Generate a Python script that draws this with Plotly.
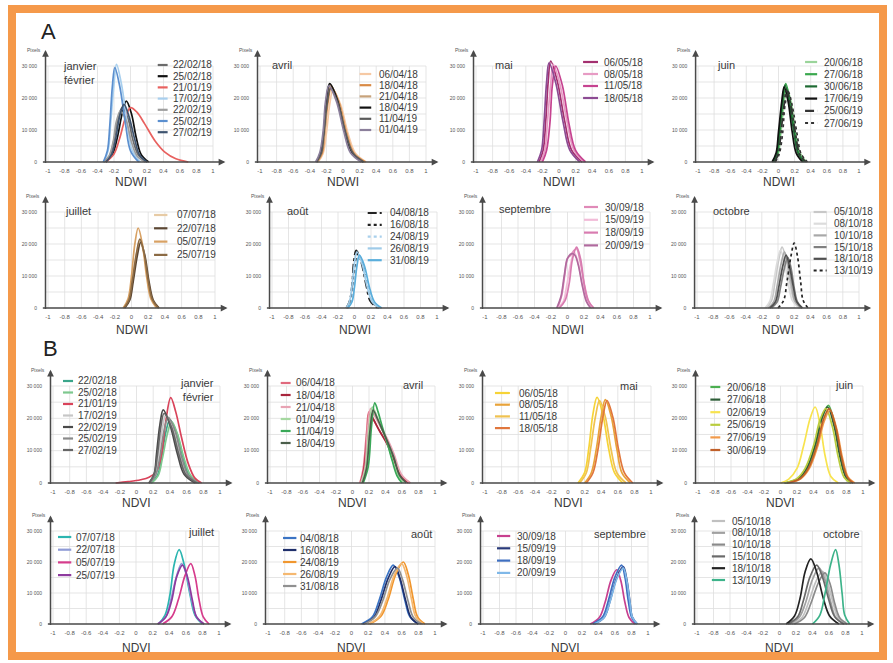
import plotly.graph_objects as go

W, H = 893, 663
FONT = "Liberation Sans, Arial, sans-serif"

# ---------------- NDWI distributions (A) : pixel counts in thousands ----------------
A_JF_DATES = ["22/02/18", "25/02/18", "21/01/19", "17/02/19", "22/02/19", "25/02/19", "27/02/19"]
A_JF_X = [
    [-0.32, -0.25, -0.2, -0.15, -0.1, -0.03, 0.03, 0.1, 0.2],
    [-0.3, -0.22, -0.16, -0.1, -0.05, 0.01, 0.07, 0.13, 0.22],
    [-0.3, -0.2, -0.13, -0.06, 0.0, 0.08, 0.17, 0.3, 0.42, 0.55, 0.7],
    [-0.32, -0.27, -0.24, -0.2, -0.17, -0.11, -0.04, 0.02, 0.12],
    [-0.33, -0.26, -0.21, -0.17, -0.12, -0.05, 0.01, 0.08, 0.18],
    [-0.33, -0.28, -0.25, -0.22, -0.19, -0.13, -0.06, 0.0, 0.1],
    [-0.3, -0.23, -0.18, -0.13, -0.08, -0.02, 0.05, 0.11, 0.2],
]
A_JF_Y = [
    [0, 2.0, 6.8, 13.6, 17.0, 13.6, 6.8, 2.0, 0],
    [0, 2.3, 7.6, 15.2, 19.0, 15.2, 7.6, 2.3, 0],
    [0, 2.5, 7.5, 14.0, 17.0, 15.5, 12.0, 6.5, 3.0, 1.0, 0],
    [0, 3.7, 12.2, 24.4, 30.5, 24.4, 12.2, 3.7, 0],
    [0, 1.9, 6.4, 12.8, 16.0, 12.8, 6.4, 1.9, 0],
    [0, 3.5, 11.8, 23.6, 29.5, 23.6, 11.8, 3.5, 0],
    [0, 2.2, 7.2, 14.4, 18.0, 14.4, 7.2, 2.2, 0],
]

A_AVR_DATES = ["06/04/18", "18/04/18", "21/04/18", "18/04/19", "11/04/19", "01/04/19"]
A_AVR_X = [
    [-0.3, -0.24, -0.2, -0.16, -0.12, -0.03, 0.06, 0.15, 0.28],
    [-0.31, -0.25, -0.22, -0.18, -0.14, -0.05, 0.04, 0.13, 0.27],
    [-0.31, -0.26, -0.22, -0.19, -0.15, -0.06, 0.03, 0.12, 0.25],
    [-0.32, -0.27, -0.23, -0.2, -0.16, -0.07, 0.02, 0.11, 0.24],
    [-0.32, -0.26, -0.23, -0.19, -0.15, -0.06, 0.03, 0.12, 0.25],
    [-0.33, -0.28, -0.24, -0.21, -0.17, -0.08, 0.01, 0.09, 0.22],
]
A_AVR_Y = [
    [0, 2.7, 9.0, 18.0, 22.5, 18.0, 9.0, 2.7, 0],
    [0, 2.8, 9.4, 18.8, 23.5, 18.8, 9.4, 2.8, 0],
    [0, 2.9, 9.6, 19.2, 24.0, 19.2, 9.6, 2.9, 0],
    [0, 2.9, 9.8, 19.6, 24.5, 19.6, 9.8, 2.9, 0],
    [0, 2.8, 9.2, 18.4, 23.0, 18.4, 9.2, 2.8, 0],
    [0, 2.9, 9.5, 19.0, 23.8, 19.0, 9.5, 2.9, 0],
]

A_MAI_DATES = ["06/05/18", "08/05/18", "11/05/18", "18/05/18"]
A_MAI_X = [
    [-0.24, -0.19, -0.16, -0.13, -0.1, -0.02, 0.07, 0.15, 0.28],
    [-0.22, -0.17, -0.14, -0.1, -0.07, 0.01, 0.1, 0.18, 0.3],
    [-0.2, -0.15, -0.11, -0.08, -0.04, 0.04, 0.12, 0.2, 0.32],
    [-0.26, -0.21, -0.18, -0.15, -0.12, -0.04, 0.05, 0.13, 0.25],
]
A_MAI_Y = [
    [0, 3.8, 12.6, 25.2, 31.5, 25.2, 12.6, 3.8, 0],
    [0, 3.7, 12.2, 24.4, 30.5, 24.4, 12.2, 3.7, 0],
    [0, 3.6, 12.0, 24.0, 30.0, 24.0, 12.0, 3.6, 0],
    [0, 3.7, 12.4, 24.8, 31.0, 24.8, 12.4, 3.7, 0],
]

A_JUN_DATES = ["20/06/18", "27/06/18", "30/06/18", "17/06/19", "25/06/19", "27/06/19"]
A_JUN_X = [
    [-0.05, 0.0, 0.03, 0.07, 0.1, 0.16, 0.21, 0.27, 0.35],
    [-0.06, -0.01, 0.02, 0.06, 0.09, 0.14, 0.2, 0.25, 0.33],
    [-0.07, -0.02, 0.01, 0.05, 0.08, 0.13, 0.19, 0.24, 0.32],
    [-0.08, -0.03, 0.0, 0.04, 0.07, 0.12, 0.17, 0.22, 0.3],
    [-0.05, 0.0, 0.03, 0.07, 0.1, 0.15, 0.21, 0.26, 0.34],
    [-0.04, 0.01, 0.05, 0.08, 0.12, 0.17, 0.23, 0.28, 0.36],
]
A_JUN_Y = [
    [0, 2.8, 9.2, 18.4, 23.0, 18.4, 9.2, 2.8, 0],
    [0, 2.9, 9.8, 19.6, 24.5, 19.6, 9.8, 2.9, 0],
    [0, 2.9, 9.6, 19.2, 24.0, 19.2, 9.6, 2.9, 0],
    [0, 2.8, 9.4, 18.8, 23.5, 18.8, 9.4, 2.8, 0],
    [0, 2.7, 9.0, 18.0, 22.5, 18.0, 9.0, 2.7, 0],
    [0, 2.6, 8.8, 17.6, 22.0, 17.6, 8.8, 2.6, 0],
]

A_JUL_DATES = ["07/07/18", "22/07/18", "05/07/19", "25/07/19"]
A_JUL_X = [
    [-0.1, -0.03, 0.01, 0.06, 0.1, 0.15, 0.2, 0.25, 0.33],
    [-0.08, -0.02, 0.02, 0.07, 0.11, 0.16, 0.21, 0.26, 0.33],
    [-0.1, -0.04, 0.0, 0.04, 0.08, 0.13, 0.18, 0.23, 0.3],
    [-0.09, -0.03, 0.01, 0.06, 0.1, 0.15, 0.2, 0.25, 0.32],
]
A_JUL_Y = [
    [0, 2.5, 8.4, 16.8, 21.0, 16.8, 8.4, 2.5, 0],
    [0, 2.5, 8.2, 16.4, 20.5, 16.4, 8.2, 2.5, 0],
    [0, 3.0, 10.0, 20.0, 25.0, 20.0, 10.0, 3.0, 0],
    [0, 2.6, 8.6, 17.2, 21.5, 17.2, 8.6, 2.6, 0],
]

A_AOU_DATES = ["04/08/18", "16/08/18", "24/08/19", "26/08/19", "31/08/19"]
A_AOU_X = [
    [-0.1, -0.06, -0.03, -0.01, 0.02, 0.08, 0.14, 0.19, 0.28],
    [-0.09, -0.05, -0.02, 0.01, 0.04, 0.1, 0.16, 0.21, 0.3],
    [-0.08, -0.04, -0.01, 0.02, 0.05, 0.11, 0.17, 0.23, 0.32],
    [-0.1, -0.06, -0.03, 0.0, 0.03, 0.09, 0.15, 0.21, 0.3],
    [-0.08, -0.03, 0.0, 0.03, 0.06, 0.12, 0.18, 0.24, 0.33],
]
A_AOU_Y = [
    [0, 2.2, 7.2, 14.4, 18.0, 14.4, 7.2, 2.2, 0],
    [0, 2.0, 6.8, 13.6, 17.0, 13.6, 6.8, 2.0, 0],
    [0, 1.9, 6.4, 12.8, 16.0, 12.8, 6.4, 1.9, 0],
    [0, 2.1, 7.0, 14.0, 17.5, 14.0, 7.0, 2.1, 0],
    [0, 2.0, 6.6, 13.2, 16.5, 13.2, 6.6, 2.0, 0],
]

A_SEP_DATES = ["30/09/18", "15/09/19", "18/09/19", "20/09/19"]
A_SEP_X = [
    [-0.12, -0.07, -0.03, 0.0, 0.04, 0.08, 0.11, 0.15, 0.2, 0.25, 0.3],
    [-0.12, -0.05, -0.01, 0.04, 0.08, 0.13, 0.18, 0.23, 0.3],
    [-0.1, -0.03, 0.02, 0.06, 0.11, 0.16, 0.2, 0.25, 0.32],
    [-0.13, -0.08, -0.04, 0.0, 0.05, 0.09, 0.13, 0.18, 0.23, 0.28],
]
A_SEP_Y = [
    [0, 4.0, 11.0, 15.5, 16.5, 18.0, 18.5, 15.0, 8.0, 2.5, 0],
    [0, 2.1, 7.0, 14.0, 17.5, 14.0, 7.0, 2.1, 0],
    [0, 2.3, 7.6, 15.2, 19.0, 15.2, 7.6, 2.3, 0],
    [0, 3.5, 10.0, 15.5, 17.0, 16.5, 13.5, 7.0, 2.0, 0],
]

A_OCT_DATES = ["05/10/18", "08/10/18", "10/10/18", "15/10/18", "18/10/18", "13/10/19"]
A_OCT_X = [
    [-0.15, -0.08, -0.04, 0.01, 0.05, 0.1, 0.15, 0.2, 0.28],
    [-0.16, -0.1, -0.06, -0.01, 0.03, 0.08, 0.13, 0.18, 0.26],
    [-0.12, -0.05, -0.01, 0.04, 0.08, 0.12, 0.17, 0.21, 0.28],
    [-0.08, -0.01, 0.03, 0.08, 0.12, 0.16, 0.2, 0.24, 0.3],
    [-0.1, -0.03, 0.01, 0.06, 0.1, 0.14, 0.19, 0.23, 0.3],
    [0.0, 0.07, 0.11, 0.16, 0.2, 0.24, 0.28, 0.31, 0.37],
]
A_OCT_Y = [
    [0, 2.3, 7.6, 15.2, 19.0, 15.2, 7.6, 2.3, 0],
    [0, 2.2, 7.2, 14.4, 18.0, 14.4, 7.2, 2.2, 0],
    [0, 2.1, 7.0, 14.0, 17.5, 14.0, 7.0, 2.1, 0],
    [0, 1.9, 6.3, 12.6, 15.8, 12.6, 6.3, 1.9, 0],
    [0, 2.0, 6.6, 13.2, 16.5, 13.2, 6.6, 2.0, 0],
    [0, 2.4, 8.1, 16.2, 20.3, 16.2, 8.1, 2.4, 0],
]

# ---------------- NDVI distributions (B) : pixel counts in thousands ----------------
B_JF_DATES = ["22/02/18", "25/02/18", "21/01/19", "17/02/19", "22/02/19", "25/02/19", "27/02/19"]
B_JF_X = [
    [0.17, 0.25, 0.3, 0.35, 0.4, 0.48, 0.56, 0.63, 0.75],
    [0.18, 0.26, 0.31, 0.37, 0.42, 0.49, 0.57, 0.65, 0.76],
    [-0.25, -0.1, 0.05, 0.15, 0.24, 0.3, 0.35, 0.41, 0.47, 0.54, 0.62, 0.7, 0.78],
    [0.15, 0.22, 0.26, 0.31, 0.35, 0.43, 0.52, 0.6, 0.72],
    [0.15, 0.21, 0.24, 0.28, 0.32, 0.4, 0.49, 0.57, 0.7],
    [0.16, 0.23, 0.28, 0.33, 0.38, 0.46, 0.54, 0.62, 0.74],
    [0.15, 0.21, 0.25, 0.29, 0.33, 0.42, 0.51, 0.59, 0.72],
]
B_JF_Y = [
    [0, 2.3, 7.8, 15.6, 19.5, 15.6, 7.8, 2.3, 0],
    [0, 2.3, 7.6, 15.2, 19.0, 15.2, 7.6, 2.3, 0],
    [0, 0.4, 1.0, 1.8, 3.6, 9.0, 19.0, 26.4, 22.0, 14.0, 6.0, 1.5, 0],
    [0, 2.5, 8.4, 16.8, 21.0, 16.8, 8.4, 2.5, 0],
    [0, 2.7, 9.0, 18.0, 22.6, 18.0, 9.0, 2.7, 0],
    [0, 2.4, 8.1, 16.2, 20.3, 16.2, 8.1, 2.4, 0],
    [0, 2.6, 8.6, 17.2, 21.5, 17.2, 8.6, 2.6, 0],
]

B_AVR_DATES = ["06/04/18", "18/04/18", "21/04/18", "01/04/19", "11/04/19", "18/04/19"]
B_AVR_X = [
    [0.09, 0.13, 0.17, 0.2, 0.25, 0.32, 0.4, 0.48, 0.58, 0.7],
    [0.1, 0.14, 0.18, 0.21, 0.26, 0.33, 0.41, 0.49, 0.58, 0.68],
    [0.1, 0.15, 0.18, 0.22, 0.27, 0.34, 0.42, 0.5, 0.59, 0.7],
    [0.11, 0.16, 0.2, 0.24, 0.29, 0.35, 0.42, 0.48, 0.55, 0.62],
    [0.13, 0.19, 0.23, 0.27, 0.31, 0.36, 0.42, 0.48, 0.54, 0.6],
    [0.12, 0.17, 0.21, 0.25, 0.3, 0.36, 0.43, 0.5, 0.57, 0.65],
]
B_AVR_Y = [
    [0, 4.4, 15.4, 22.0, 19.8, 16.5, 13.2, 8.8, 2.6, 0],
    [0, 4.3, 15.0, 21.5, 19.4, 16.0, 12.5, 8.0, 2.5, 0],
    [0, 4.6, 16.0, 23.0, 20.7, 17.3, 13.8, 9.2, 2.8, 0],
    [0, 4.7, 16.5, 23.5, 21.0, 17.0, 12.5, 7.5, 2.5, 0],
    [0, 5.0, 17.4, 24.8, 22.0, 17.5, 12.5, 7.0, 2.2, 0],
    [0, 4.5, 15.8, 22.5, 20.0, 16.5, 12.5, 8.0, 2.4, 0],
]

B_MAI_DATES = ["06/05/18", "08/05/18", "11/05/18", "18/05/18"]
B_MAI_X = [
    [0.12, 0.2, 0.25, 0.3, 0.35, 0.42, 0.49, 0.56, 0.66],
    [0.2, 0.28, 0.34, 0.4, 0.45, 0.52, 0.59, 0.65, 0.75],
    [0.14, 0.22, 0.27, 0.33, 0.38, 0.45, 0.52, 0.59, 0.7],
    [0.22, 0.3, 0.36, 0.42, 0.47, 0.54, 0.61, 0.68, 0.78],
]
B_MAI_Y = [
    [0, 3.2, 10.6, 21.2, 26.5, 21.2, 10.6, 3.2, 0],
    [0, 3.1, 10.3, 20.6, 25.8, 20.6, 10.3, 3.1, 0],
    [0, 3.1, 10.2, 20.4, 25.5, 20.4, 10.2, 3.1, 0],
    [0, 3.1, 10.2, 20.4, 25.5, 20.4, 10.2, 3.1, 0],
]

B_JUN_DATES = ["20/06/18", "27/06/18", "02/06/19", "25/06/19", "27/06/19", "30/06/19"]
B_JUN_X = [
    [0.05, 0.23, 0.33, 0.43, 0.51, 0.58, 0.66, 0.73, 0.8, 0.88],
    [0.05, 0.22, 0.32, 0.42, 0.5, 0.57, 0.65, 0.72, 0.79, 0.86],
    [0.0, 0.1, 0.2, 0.28, 0.36, 0.42, 0.48, 0.54, 0.61, 0.7],
    [0.05, 0.2, 0.3, 0.4, 0.48, 0.55, 0.63, 0.7, 0.77, 0.85],
    [0.1, 0.25, 0.35, 0.45, 0.53, 0.6, 0.68, 0.75, 0.82, 0.9],
    [0.08, 0.24, 0.34, 0.44, 0.52, 0.59, 0.67, 0.74, 0.81, 0.88],
]
B_JUN_Y = [
    [0, 1.4, 4.8, 12.0, 20.4, 24.0, 18.0, 8.4, 1.9, 0],
    [0, 1.4, 4.7, 11.8, 20.0, 23.5, 17.6, 8.2, 1.9, 0],
    [0, 1.2, 4.5, 11.5, 20.0, 23.5, 18.0, 8.5, 2.0, 0],
    [0, 1.4, 4.6, 11.5, 19.6, 23.0, 17.3, 8.0, 1.8, 0],
    [0, 1.4, 4.5, 11.3, 19.1, 22.5, 16.9, 7.9, 1.8, 0],
    [0, 1.4, 4.6, 11.5, 19.6, 23.0, 17.3, 8.0, 1.8, 0],
]

B_JUL_DATES = ["07/07/18", "22/07/18", "05/07/19", "25/07/19"]
B_JUL_X = [
    [0.27, 0.35, 0.41, 0.46, 0.52, 0.58, 0.65, 0.71, 0.8],
    [0.27, 0.36, 0.42, 0.49, 0.55, 0.61, 0.67, 0.73, 0.82],
    [0.32, 0.43, 0.51, 0.59, 0.66, 0.71, 0.76, 0.81, 0.88],
    [0.26, 0.36, 0.43, 0.49, 0.56, 0.62, 0.68, 0.73, 0.82],
]
B_JUL_Y = [
    [0, 2.9, 9.6, 19.2, 24.0, 19.2, 9.6, 2.9, 0],
    [0, 2.3, 7.8, 15.6, 19.5, 15.6, 7.8, 2.3, 0],
    [0, 2.3, 7.8, 15.6, 19.5, 15.6, 7.8, 2.3, 0],
    [0, 2.3, 7.6, 15.2, 19.0, 15.2, 7.6, 2.3, 0],
]

B_AOU_DATES = ["04/08/18", "16/08/18", "24/08/19", "26/08/19", "31/08/18"]
B_AOU_X = [
    [0.12, 0.25, 0.33, 0.42, 0.5, 0.57, 0.64, 0.7, 0.8],
    [0.14, 0.27, 0.35, 0.44, 0.52, 0.58, 0.65, 0.71, 0.8],
    [0.22, 0.35, 0.44, 0.53, 0.62, 0.68, 0.74, 0.79, 0.88],
    [0.2, 0.33, 0.42, 0.51, 0.6, 0.66, 0.72, 0.77, 0.86],
    [0.15, 0.28, 0.37, 0.46, 0.55, 0.61, 0.68, 0.74, 0.84],
]
B_AOU_Y = [
    [0, 2.3, 7.6, 15.2, 19.0, 15.2, 7.6, 2.3, 0],
    [0, 2.2, 7.4, 14.8, 18.5, 14.8, 7.4, 2.2, 0],
    [0, 2.4, 8.0, 16.0, 20.0, 16.0, 8.0, 2.4, 0],
    [0, 2.3, 7.8, 15.6, 19.5, 15.6, 7.8, 2.3, 0],
    [0, 2.2, 7.2, 14.4, 18.0, 14.4, 7.2, 2.2, 0],
]

B_SEP_DATES = ["30/09/18", "15/09/19", "18/09/19", "20/09/19"]
B_SEP_X = [
    [0.3, 0.41, 0.48, 0.55, 0.62, 0.67, 0.72, 0.77, 0.84],
    [0.35, 0.47, 0.54, 0.62, 0.7, 0.74, 0.78, 0.81, 0.87],
    [0.33, 0.45, 0.52, 0.6, 0.68, 0.72, 0.76, 0.8, 0.86],
    [0.35, 0.47, 0.54, 0.62, 0.7, 0.74, 0.78, 0.81, 0.87],
]
B_SEP_Y = [
    [0, 2.1, 7.0, 14.0, 17.5, 14.0, 7.0, 2.1, 0],
    [0, 2.2, 7.4, 14.8, 18.5, 14.8, 7.4, 2.2, 0],
    [0, 2.3, 7.6, 15.2, 19.0, 15.2, 7.6, 2.3, 0],
    [0, 2.2, 7.2, 14.4, 18.0, 14.4, 7.2, 2.2, 0],
]

B_OCT_DATES = ["05/10/18", "08/10/18", "10/10/18", "15/10/18", "18/10/18", "13/10/19"]
B_OCT_X = [
    [0.15, 0.27, 0.35, 0.44, 0.52, 0.58, 0.65, 0.71, 0.8],
    [0.12, 0.24, 0.32, 0.4, 0.48, 0.55, 0.62, 0.68, 0.78],
    [0.18, 0.3, 0.38, 0.47, 0.55, 0.61, 0.67, 0.73, 0.82],
    [0.1, 0.22, 0.29, 0.37, 0.45, 0.52, 0.6, 0.67, 0.78],
    [0.08, 0.18, 0.25, 0.31, 0.38, 0.45, 0.53, 0.61, 0.72],
    [0.4, 0.49, 0.55, 0.62, 0.68, 0.72, 0.76, 0.79, 0.85],
]
B_OCT_Y = [
    [0, 2.0, 6.8, 13.6, 17.0, 13.6, 6.8, 2.0, 0],
    [0, 2.2, 7.2, 14.4, 18.0, 14.4, 7.2, 2.2, 0],
    [0, 2.0, 6.6, 13.2, 16.5, 13.2, 6.6, 2.0, 0],
    [0, 2.3, 7.6, 15.2, 19.0, 15.2, 7.6, 2.3, 0],
    [0, 2.5, 8.4, 16.8, 21.0, 16.8, 8.4, 2.5, 0],
    [0, 2.9, 9.6, 19.2, 24.0, 19.2, 9.6, 2.9, 0],
]

# axis ticks
X_TICKS = [-1, -0.8, -0.6, -0.4, -0.2, 0, 0.2, 0.4, 0.6, 0.8, 1]
X_TICK_TEXT = ["-1", "-0.8", "-0.6", "-0.4", "-0.2", "0", "0.2", "0.4", "0.6", "0.8", "1"]
Y_TICKS = [0, 10, 20, 30]
Y_TICK_TEXT = ["0", "10 000", "20 000", "30 000"]
Y_GRID = [5, 10, 15, 20, 25, 30]

# ---------------- styles ----------------
S = "solid"
STYLES = {
    "A_JF": (["#6b6b6b", "#111111", "#e8615f", "#a8cfee", "#9e9e9e", "#5b8fcf", "#3e5470"], [S] * 7),
    "A_AVR": (["#f6c9a4", "#d98a45", "#c7a27a", "#111111", "#5a5a5a", "#8b7f9b"], [S] * 6),
    "A_MAI": (["#a3306f", "#e79bc4", "#c64390", "#8c4b93"], [S] * 4),
    "A_JUN": (["#9ad49a", "#3aa84e", "#1e6a33", "#111111", "#333333", "#333333"], [S, S, S, S, "dashdot", "dot"]),
    "A_JUL": (["#e7cba5", "#5b4633", "#d8a163", "#8b6a44"], [S] * 4),
    "A_AOU": (["#222222", "#222222", "#a9d0ec", "#9fcbe8", "#5aaedc"], ["dashdot", "dot", "dot", S, S]),
    "A_SEP": (["#e08ab8", "#f2bcd8", "#d87cb0", "#b06a9e"], [S] * 4),
    "A_OCT": (["#c8c8c8", "#dcdcdc", "#a8a8a8", "#808080", "#4f4f4f", "#222222"], [S] * 5 + ["dot"]),
    "B_JF": (["#3aa58a", "#7dc88e", "#d9435a", "#c6c6c6", "#4a4a4a", "#8a8a8a", "#666666"], [S] * 7),
    "B_AVR": (["#e0697d", "#a8243c", "#e8a3b3", "#a5d8a0", "#3aa858", "#4b5e4b"], [S] * 6),
    "B_MAI": (["#f6d337", "#e8a33a", "#f0c250", "#e0763c"], [S] * 4),
    "B_JUN": (["#4caf50", "#2e5e38", "#f8e34e", "#b9cc3e", "#f29a4a", "#c0602a"], [S] * 6),
    "B_JUL": (["#2bb5b0", "#8f9bd6", "#d63c8c", "#8e3a9e"], [S] * 4),
    "B_AOU": (["#3b74c4", "#1f2f6b", "#f0962e", "#f5b870", "#909090"], [S] * 5),
    "B_SEP": (["#c8408f", "#2a3a7a", "#3e6fc0", "#7fb8e8"], [S] * 4),
    "B_OCT": (["#c0c0c0", "#a0a0a0", "#8a8a8a", "#6a6a6a", "#222222", "#3db38a"], [S] * 6),
}

# panel order, month label and index variable
PANELS = [
    ("A_JF", "janvier<br>février", "NDWI", A_JF_DATES, A_JF_X, A_JF_Y),
    ("A_AVR", "avril", "NDWI", A_AVR_DATES, A_AVR_X, A_AVR_Y),
    ("A_MAI", "mai", "NDWI", A_MAI_DATES, A_MAI_X, A_MAI_Y),
    ("A_JUN", "juin", "NDWI", A_JUN_DATES, A_JUN_X, A_JUN_Y),
    ("A_JUL", "juillet", "NDWI", A_JUL_DATES, A_JUL_X, A_JUL_Y),
    ("A_AOU", "août", "NDWI", A_AOU_DATES, A_AOU_X, A_AOU_Y),
    ("A_SEP", "septembre", "NDWI", A_SEP_DATES, A_SEP_X, A_SEP_Y),
    ("A_OCT", "octobre", "NDWI", A_OCT_DATES, A_OCT_X, A_OCT_Y),
    ("B_JF", "janvier<br>février", "NDVI", B_JF_DATES, B_JF_X, B_JF_Y),
    ("B_AVR", "avril", "NDVI", B_AVR_DATES, B_AVR_X, B_AVR_Y),
    ("B_MAI", "mai", "NDVI", B_MAI_DATES, B_MAI_X, B_MAI_Y),
    ("B_JUN", "juin", "NDVI", B_JUN_DATES, B_JUN_X, B_JUN_Y),
    ("B_JUL", "juillet", "NDVI", B_JUL_DATES, B_JUL_X, B_JUL_Y),
    ("B_AOU", "août", "NDVI", B_AOU_DATES, B_AOU_X, B_AOU_Y),
    ("B_SEP", "septembre", "NDVI", B_SEP_DATES, B_SEP_X, B_SEP_Y),
    ("B_OCT", "octobre", "NDVI", B_OCT_DATES, B_OCT_X, B_OCT_Y),
]

# ---------------- layout geometry (pixels) ----------------
# (px of x=-1, px of x=1, px of y=0, px of y=30 000)
GEOM = {
    "A_JF": (48, 213, 162, 66), "A_AVR": (260, 426, 162, 66),
    "A_MAI": (476, 642, 162, 66), "A_JUN": (698, 859, 162, 66),
    "A_JUL": (48, 215, 308, 212), "A_AOU": (272, 437, 308, 212),
    "A_SEP": (485, 650, 308, 212), "A_OCT": (697, 859, 308, 212),
    "B_JF": (53, 220, 483, 386), "B_AVR": (270, 435, 483, 386),
    "B_MAI": (485, 651, 483, 386), "B_JUN": (698, 863, 483, 386),
    "B_JUL": (53, 219, 624, 531), "B_AOU": (268, 435, 624, 531),
    "B_SEP": (483, 648, 624, 531), "B_OCT": (697, 862, 624, 531),
}
# legend: swatch start / end and text start (x units), first row px, row gap px
LEGEND = {
    "A_JF": (0.33, 0.45, 0.49, 65, 11.2), "A_AVR": (0.2, 0.34, 0.41, 74, 11.2),
    "A_MAI": (0.29, 0.47, 0.52, 62, 12.0), "A_JUN": (0.33, 0.48, 0.54, 62, 12.2),
    "A_JUL": (0.27, 0.43, 0.52, 215, 13.3), "A_AOU": (0.16, 0.33, 0.41, 213, 11.8),
    "A_SEP": (0.2, 0.37, 0.43, 207, 12.8), "A_OCT": (0.44, 0.6, 0.67, 212, 11.7),
    "B_JF": (-0.88, -0.76, -0.73, 381, 11.5), "B_AVR": (-0.87, -0.75, -0.71, 383, 12.0),
    "B_MAI": (-0.88, -0.7, -0.61, 393, 11.7), "B_JUN": (-0.85, -0.73, -0.67, 387, 12.6),
    "B_JUL": (-0.94, -0.78, -0.75, 537, 12.7), "B_AOU": (-0.82, -0.66, -0.64, 538, 12.0),
    "B_SEP": (-0.83, -0.67, -0.61, 536, 12.3), "B_OCT": (-0.82, -0.66, -0.6, 521, 11.8),
}
# month label: anchor px x, top px y, horizontal anchor
MONTH = {
    "A_JF": (61, 58, "left"), "A_AVR": (270, 57, "left"), "A_MAI": (493, 57, "left"),
    "A_JUN": (715, 57, "left"), "A_JUL": (63, 203, "left"), "A_AOU": (285, 203, "left"),
    "A_SEP": (497, 201, "left"), "A_OCT": (711, 203, "left"),
    "B_JF": (216, 375, "right"), "B_AVR": (425, 377, "right"), "B_MAI": (640, 378, "right"),
    "B_JUN": (855, 377, "right"), "B_JUL": (216, 524, "right"), "B_AOU": (434, 526, "right"),
    "B_SEP": (648, 526, "right"), "B_OCT": (862, 526, "right"),
}
TITLE_Y = {"A": (182, 330), "B": (503, 648)}

XMIN, XMAX = -1.12, 1.2
YMIN, YMAX = -1.2, 37.0
YAXIS_X = -1.03
AXC = "#4a4a4a"
GRIDC = "#dedede"
TXT = "#3a3a3a"


def to_px_x(g, v):
    return g[0] + (v + 1.0) * (g[1] - g[0]) / 2.0


def to_px_y(g, v):
    return g[2] - v * (g[2] - g[3]) / 30.0


def pxx(p):
    return p / W


def pxy(p):
    return 1.0 - p / H


fig = go.Figure()
layout = dict(
    width=W, height=H, margin=dict(l=0, r=0, t=0, b=0),
    paper_bgcolor="white", plot_bgcolor="rgba(0,0,0,0)",
    showlegend=False, font=dict(family=FONT, color=TXT),
)
shapes, annotations = [], []

for i, (key, month, var, dates, xs, ys) in enumerate(PANELS, start=1):
    g = GEOM[key]
    xa = "x" if i == 1 else f"x{i}"
    ya = "y" if i == 1 else f"y{i}"
    layout["xaxis" if i == 1 else f"xaxis{i}"] = dict(
        domain=[pxx(to_px_x(g, XMIN)), pxx(to_px_x(g, XMAX))],
        range=[XMIN, XMAX], anchor=ya, showgrid=False, zeroline=False,
        showline=False, ticks="", tickvals=X_TICKS, ticktext=X_TICK_TEXT,
        tickfont=dict(size=6, color="#555555"), fixedrange=True,
    )
    layout["yaxis" if i == 1 else f"yaxis{i}"] = dict(
        domain=[pxy(to_px_y(g, YMIN)), pxy(to_px_y(g, YMAX))],
        range=[YMIN, YMAX], anchor=xa, showgrid=False, zeroline=False,
        showline=False, ticks="", tickvals=Y_TICKS, ticktext=Y_TICK_TEXT,
        tickfont=dict(size=5, color="#555555"), fixedrange=True,
    )

    # light grid limited to the -1..1 x 0..30 000 box
    for xv in X_TICKS:
        shapes.append(dict(type="line", xref=xa, yref=ya, x0=xv, x1=xv, y0=0, y1=30,
                           line=dict(color=GRIDC, width=0.8), layer="below"))
    for yv in Y_GRID:
        shapes.append(dict(type="line", xref=xa, yref=ya, x0=YAXIS_X, x1=1.0, y0=yv, y1=yv,
                           line=dict(color=GRIDC, width=0.8), layer="below"))

    colors, dashes = STYLES[key]
    for d, xv, yv, c, ds in zip(dates, xs, ys, colors, dashes):
        fig.add_trace(go.Scatter(
            x=xv, y=yv, xaxis=xa, yaxis=ya, mode="lines", name=d,
            line=dict(color=c, width=1.7, dash=ds, shape="spline", smoothing=1.0),
            hoverinfo="skip",
        ))

    # arrowed axes
    annotations.append(dict(xref=xa, yref=ya, axref=xa, ayref=ya, x=1.15, y=0, ax=-1.08, ay=0,
                            text="", showarrow=True, arrowhead=2, arrowsize=0.9,
                            arrowwidth=1.5, arrowcolor=AXC, standoff=0))
    annotations.append(dict(xref=xa, yref=ya, axref=xa, ayref=ya, x=YAXIS_X, y=35, ax=YAXIS_X, ay=-0.8,
                            text="", showarrow=True, arrowhead=2, arrowsize=0.9,
                            arrowwidth=1.5, arrowcolor=AXC, standoff=0))
    # "Pixels" caption above the y axis
    ax_px = to_px_x(g, YAXIS_X)
    annotations.append(dict(xref="paper", yref="paper", x=pxx(ax_px - 12), y=pxy(g[3] - 16),
                            text="Pixels", showarrow=False, xanchor="center", yanchor="middle",
                            font=dict(size=5, color="#555555")))
    # index name under the axis
    row_y = TITLE_Y[key[0]][0 if i in (1, 2, 3, 4, 9, 10, 11, 12) else 1]
    annotations.append(dict(xref="paper", yref="paper", x=pxx(to_px_x(g, 0)), y=pxy(row_y),
                            text=var, showarrow=False, xanchor="center", yanchor="middle",
                            font=dict(size=12, color=TXT)))
    # month label
    mx, my, mal = MONTH[key]
    annotations.append(dict(xref="paper", yref="paper", x=pxx(mx), y=pxy(my), text=month,
                            showarrow=False, xanchor=mal, yanchor="top", align=mal,
                            font=dict(size=11, color=TXT)))
    # hand-placed legend
    sx0, sx1, tx, fy, gap = LEGEND[key]
    for k, (d, c, ds) in enumerate(zip(dates, colors, dashes)):
        py = fy + k * gap
        shapes.append(dict(type="line", xref="paper", yref="paper",
                           x0=pxx(to_px_x(g, sx0)), x1=pxx(to_px_x(g, sx1)),
                           y0=pxy(py), y1=pxy(py), line=dict(color=c, width=2.2, dash=ds)))
        annotations.append(dict(xref="paper", yref="paper", x=pxx(to_px_x(g, tx)), y=pxy(py),
                                text=d, showarrow=False, xanchor="left", yanchor="middle",
                                font=dict(size=10, color=TXT)))

# section letters
annotations.append(dict(xref="paper", yref="paper", x=pxx(48), y=pxy(31), text="A",
                        showarrow=False, xanchor="center", yanchor="middle",
                        font=dict(size=22, color="#222222")))
annotations.append(dict(xref="paper", yref="paper", x=pxx(50), y=pxy(348), text="B",
                        showarrow=False, xanchor="center", yanchor="middle",
                        font=dict(size=22, color="#222222")))

# orange frame
shapes.append(dict(type="rect", xref="paper", yref="paper", x0=pxx(12), x1=pxx(883),
                   y0=pxy(656), y1=pxy(9), line=dict(color="#f5994a", width=8),
                   fillcolor="rgba(0,0,0,0)"))

layout["shapes"] = shapes
layout["annotations"] = annotations
fig.update_layout(**layout)
fig.write_html("out.html")
